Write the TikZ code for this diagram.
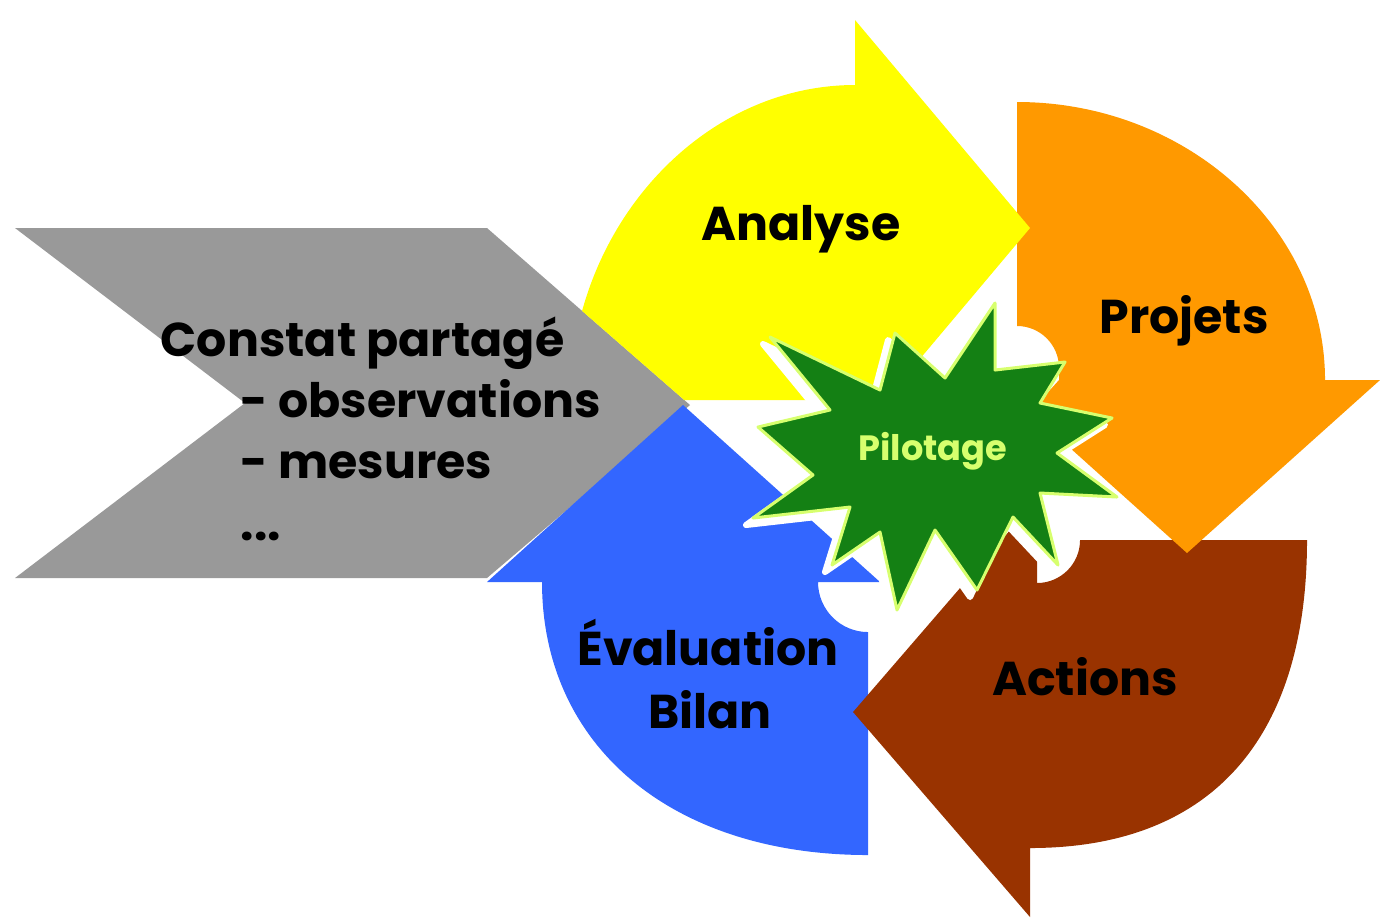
\documentclass[tikz,border=0pt]{standalone}
\usepackage{fontspec}
\setmainfont{Poppins}

\definecolor{constatgray}{RGB}{153,153,153}
\definecolor{analyseyellow}{RGB}{255,255,0}
\definecolor{projetsorange}{RGB}{255,153,0}
\definecolor{actionsbrown}{RGB}{153,51,0}
\definecolor{bilanblue}{RGB}{51,102,255}
\definecolor{pilotgreen}{RGB}{20,128,20}
\definecolor{pilotlime}{RGB}{215,255,110}

\tikzset{
  every node/.style={inner sep=0pt},
  constatfill/.style={fill=constatgray},
  analysefill/.style={fill=analyseyellow},
  projetsfill/.style={fill=projetsorange},
  actionsfill/.style={fill=actionsbrown},
  bilanfill/.style={fill=bilanblue},
  starshadow/.style={fill=white,draw=white,line width=0.06cm,line join=round,shift={(-7,-7)}},
  starfill/.style={fill=pilotgreen,draw=pilotlime,line width=0.03cm,line join=round},
  bigtext/.style={font=\fontsize{13.5}{16}\selectfont\bfseries,anchor=base},
  listtext/.style={bigtext,anchor=base west}
}

\newcommand{\pilotstar}[1]{%
  \path[#1] (758,-427) -- (830,-410) -- (770,-337) -- (880,-390) -- (895,-333)
    -- (945,-378) -- (995,-303) -- (995,-370) -- (1065,-362) -- (1040,-403)
    -- (1112,-418) -- (1057,-453) -- (1117,-497) -- (1040,-493) -- (1058,-565)
    -- (1013,-517) -- (977,-590) -- (935,-530) -- (897,-610) -- (880,-532)
    -- (832,-565) -- (850,-507) -- (753,-518) -- (813,-475) -- cycle;}

\begin{document}
\begin{tikzpicture}[x=0.01cm,y=0.01cm]
  \useasboundingbox (0,0) rectangle (1380,-920);

  % chevron
  \fill[constatfill] (15,-228) -- (487,-228) -- (690,-405) -- (487,-578)
    -- (15,-578) -- (245,-403) -- cycle;

  % four circular arrows
  \fill[bilanfill] (683,-405) -- (880,-582) -- (818,-582)
    arc[start angle=180,end angle=270,radius=0.5cm] -- (868,-855)
    .. controls (672,-855) and (542,-746) .. (542,-582) -- (487,-582) -- cycle;
  \fill[actionsfill] (1080,-540) -- (1307,-540)
    .. controls (1307,-740) and (1210,-848) .. (1030,-848)
    -- (1030,-917) -- (853,-712) -- (1030,-507) -- (1037,-520) -- (1037,-583)
    arc[start angle=-90,end angle=0,radius=0.43cm] -- cycle;
  \fill[projetsfill] (1017,-102)
    .. controls (1186,-102) and (1325,-227) .. (1325,-380)
    -- (1380,-380) -- (1187,-553) -- (1030,-412) -- (1059,-380) -- (1059,-368)
    arc[start angle=0,end angle=90,radius=0.42cm] -- cycle;
  \begin{scope}
    \clip (487,0) -- (487,-228) -- (690,-405) -- (690,-920) -- (1380,-920)
      -- (1380,0) -- cycle;
    \fill[analysefill] (855,-85) -- (855,-20) -- (1030,-228) -- (855,-436)
      -- (860,-400) -- (570,-400)
      .. controls (570,-231) and (698,-85) .. (855,-85) -- cycle;
  \end{scope}

  % central star
  \pilotstar{starshadow}
  \pilotstar{starfill}

  \node[bigtext] (Analyse) at (801,-240) {Analyse};
  \node[bigtext] (Projets) at (1184,-333) {Projets};
  \node[bigtext] (Actions) at (1085,-695) {Actions};
  \node[bigtext] (Evaluation) at (708,-665) {Évaluation};
  \node[bigtext] (Bilan) at (710,-728) {Bilan};
  \node[bigtext,font=\fontsize{10}{12}\selectfont\bfseries,text=pilotlime]
    (Pilotage) at (933,-460) {Pilotage};

  \node[listtext] (Constat) at (160,-356) {Constat partagé};
  \node[listtext] (Observations) at (240,-417) {- observations};
  \node[listtext] (Mesures) at (240,-478) {- mesures};
  \node[listtext] (Suite) at (240,-540) {...};
\end{tikzpicture}
\end{document}
